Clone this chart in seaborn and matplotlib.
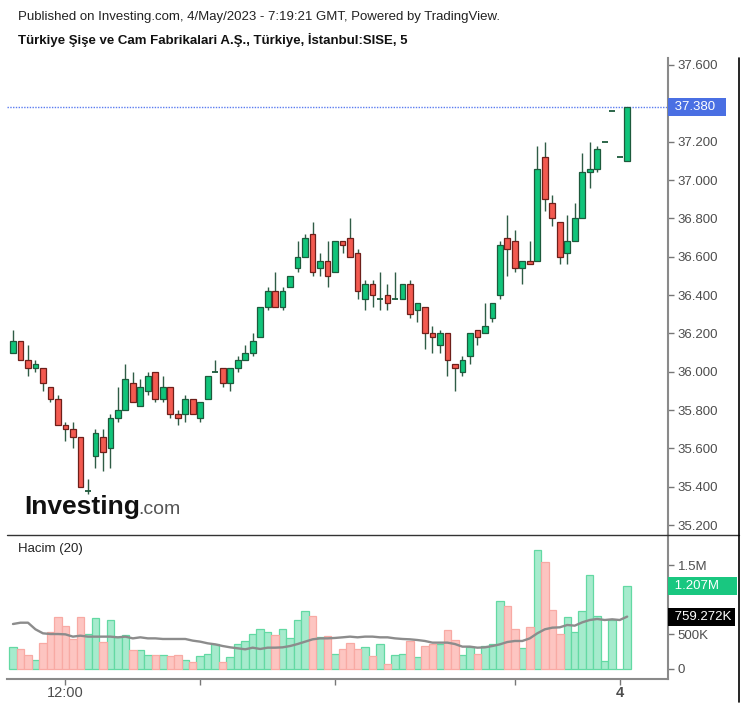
import numpy as np
import pandas as pd
import matplotlib
matplotlib.use("Agg")
import matplotlib.pyplot as plt
import matplotlib.transforms as mtransforms
from matplotlib.lines import Line2D
import seaborn as sns

# ---------------- data ----------------
opens = [36.10, 36.16, 36.06, 36.02, 36.02, 35.92, 35.86, 35.72, 35.70, 35.66,
         35.38, 35.56, 35.66, 35.60, 35.76, 35.80, 35.94, 35.82, 35.90, 36.00,
         35.86, 35.92, 35.78, 35.78, 35.86, 35.76, 35.86, 36.00, 36.02, 35.94,
         36.02, 36.06, 36.10, 36.18, 36.34, 36.42, 36.34, 36.44, 36.54, 36.60,
         36.72, 36.54, 36.58, 36.52, 36.68, 36.70, 36.62, 36.38, 36.46, 36.38,
         36.40, 36.38, 36.38, 36.46, 36.32, 36.34, 36.20, 36.14, 36.20, 36.04,
         36.00, 36.08, 36.22, 36.20, 36.28, 36.40, 36.70, 36.68, 36.54, 36.58,
         36.58, 37.12, 36.88, 36.78, 36.62, 36.68, 36.80, 37.04, 37.06, 37.20,
         37.36, 37.12, 37.10]
highs = [36.22, 36.16, 36.14, 36.06, 36.02, 35.92, 35.88, 35.74, 35.74, 35.66,
         35.44, 35.70, 35.70, 35.78, 35.92, 36.04, 36.00, 35.96, 36.00, 36.00,
         35.98, 35.92, 35.80, 35.88, 35.86, 35.84, 35.98, 36.06, 36.02, 36.02,
         36.08, 36.14, 36.20, 36.34, 36.44, 36.52, 36.44, 36.50, 36.68, 36.72,
         36.78, 36.62, 36.68, 36.68, 36.68, 36.80, 36.64, 36.48, 36.48, 36.52,
         36.46, 36.52, 36.46, 36.48, 36.36, 36.34, 36.24, 36.22, 36.20, 36.04,
         36.08, 36.20, 36.22, 36.36, 36.36, 36.68, 36.82, 36.74, 36.58, 36.68,
         37.18, 37.20, 36.92, 36.78, 36.82, 36.88, 37.14, 37.20, 37.18, 37.20,
         37.36, 37.12, 37.38]
lows = [36.10, 36.06, 35.98, 36.00, 35.90, 35.84, 35.72, 35.64, 35.60, 35.40,
        35.36, 35.50, 35.48, 35.50, 35.74, 35.80, 35.84, 35.82, 35.88, 35.84,
        35.84, 35.76, 35.72, 35.74, 35.78, 35.74, 35.86, 36.00, 35.92, 35.90,
        36.00, 36.06, 36.08, 36.18, 36.32, 36.34, 36.32, 36.44, 36.52, 36.60,
        36.50, 36.50, 36.44, 36.52, 36.62, 36.60, 36.38, 36.32, 36.34, 36.32,
        36.32, 36.38, 36.38, 36.28, 36.26, 36.12, 36.10, 36.10, 35.98, 35.90,
        35.98, 36.04, 36.14, 36.20, 36.26, 36.38, 36.50, 36.52, 36.46, 36.56,
        36.58, 36.84, 36.76, 36.56, 36.56, 36.68, 36.80, 36.96, 37.04, 37.20,
        37.36, 37.12, 37.10]
closes = [36.16, 36.06, 36.02, 36.04, 35.94, 35.86, 35.72, 35.70, 35.66, 35.40,
          35.38, 35.68, 35.58, 35.76, 35.80, 35.96, 35.84, 35.92, 35.98, 35.86,
          35.92, 35.78, 35.76, 35.86, 35.78, 35.84, 35.98, 36.00, 35.94, 36.02,
          36.06, 36.10, 36.16, 36.34, 36.42, 36.34, 36.42, 36.50, 36.60, 36.70,
          36.52, 36.58, 36.50, 36.68, 36.66, 36.60, 36.42, 36.46, 36.40, 36.38,
          36.36, 36.38, 36.46, 36.30, 36.36, 36.20, 36.18, 36.20, 36.06, 36.02,
          36.06, 36.20, 36.18, 36.24, 36.36, 36.66, 36.64, 36.54, 36.58, 36.56,
          37.06, 36.90, 36.80, 36.60, 36.68, 36.80, 37.04, 37.06, 37.16, 37.20,
          37.36, 37.12, 37.38]
# volume in millions
volume = [0.314, 0.295, 0.203, 0.130, 0.381, 0.532, 0.749, 0.623, 0.439, 0.749,
          0.507, 0.744, 0.387, 0.710, 0.469, 0.493, 0.275, 0.275, 0.203, 0.203,
          0.203, 0.188, 0.203, 0.130, 0.097, 0.188, 0.217, 0.362, 0.097, 0.169,
          0.362, 0.406, 0.507, 0.580, 0.532, 0.493, 0.580, 0.454, 0.710, 0.841,
          0.768, 0.459, 0.473, 0.217, 0.295, 0.382, 0.295, 0.314, 0.188, 0.362,
          0.072, 0.203, 0.217, 0.406, 0.169, 0.333, 0.362, 0.362, 0.565, 0.420,
          0.203, 0.314, 0.217, 0.333, 0.362, 0.981, 0.908, 0.580, 0.309, 0.604,
          1.725, 1.546, 0.855, 0.507, 0.749, 0.532, 0.841, 1.362, 0.768, 0.111,
          0.710, 0.004, 1.207]
# volume moving average (20), in millions
volume_ma = [0.652, 0.671, 0.671, 0.575, 0.517, 0.507, 0.507, 0.502, 0.469, 0.483,
             0.469, 0.469, 0.469, 0.469, 0.459, 0.469, 0.444, 0.459, 0.444, 0.444,
             0.435, 0.435, 0.435, 0.435, 0.411, 0.396, 0.372, 0.357, 0.333, 0.314,
             0.300, 0.285, 0.309, 0.290, 0.309, 0.309, 0.314, 0.333, 0.362, 0.396,
             0.430, 0.444, 0.444, 0.450, 0.459, 0.469, 0.459, 0.469, 0.469, 0.459,
             0.459, 0.444, 0.435, 0.430, 0.420, 0.406, 0.382, 0.382, 0.382, 0.362,
             0.324, 0.324, 0.309, 0.314, 0.333, 0.357, 0.391, 0.406, 0.406, 0.444,
             0.517, 0.575, 0.599, 0.604, 0.638, 0.628, 0.676, 0.710, 0.725, 0.710,
             0.720, 0.710, 0.759]
price_ticks = [35.2, 35.4, 35.6, 35.8, 36.0, 36.2, 36.4, 36.6, 36.8, 37.0, 37.2, 37.6]
volume_ticks = [0.0, 0.5, 1.5]
volume_tick_labels = ["0", "500K", "1.5M"]
time_tick_pos = [7, 25, 43, 67, 81]
time_tick_labels = ["12:00", "", "", "", "4"]
last_price = 37.38
last_volume = 1.207
last_volume_ma = 0.759272

# ---------------- styling ----------------
sns.set_theme(style="white")
plt.rcParams["font.family"] = ["Liberation Sans", "DejaVu Sans"]

W, H = 747, 707
fig = plt.figure(figsize=(W / 100, H / 100), dpi=100)
fig.patch.set_facecolor("white")

def fx(px):
    return px / W

def fy(py):
    return 1 - py / H

axp = fig.add_axes([fx(7), fy(535), (668 - 7) / W, (535 - 58) / H])
axv = fig.add_axes([fx(7), fy(679), (668 - 7) / W, (679 - 535) / H])

n = len(opens)
idx = np.arange(n)
df = pd.DataFrame({"i": idx, "open": opens, "high": highs, "low": lows,
                   "close": closes, "vol": volume, "ma": volume_ma})
df["dir"] = np.where(df["close"] >= df["open"], "up", "down")

UP_FILL, UP_EDGE = "#10c47a", "#1d5a3c"
DN_FILL, DN_EDGE = "#f35a50", "#6e1f1a"
WICK = "#2f5c46"

# ---------------- candles ----------------
axp.vlines(df["i"], df["low"], df["high"], color=WICK, lw=1.0, zorder=2)
body_w = 0.76
for _, r in df.iterrows():
    lo, hi = min(r["open"], r["close"]), max(r["open"], r["close"])
    up = r["dir"] == "up"
    if hi - lo < 1e-9:
        axp.hlines(lo, r["i"] - body_w / 2, r["i"] + body_w / 2,
                   color=UP_EDGE if up else DN_EDGE, lw=1.3, zorder=3)
    else:
        axp.bar(r["i"], hi - lo, bottom=lo, width=body_w,
                color=UP_FILL if up else DN_FILL,
                edgecolor=UP_EDGE if up else DN_EDGE, linewidth=0.9, zorder=3)

axp.axhline(last_price, color="#5b7cf0", lw=1.0, ls=(0, (1, 1)), zorder=1)

axp.set_xlim(-0.8, 87.45)
axp.set_ylim(35.148, 37.6365)
axp.set_xticks([])
axp.yaxis.tick_right()
axp.set_yticks(price_ticks)
axp.set_yticklabels([f"{t:.3f}" for t in price_ticks])
axp.tick_params(axis="y", right=True, left=False, length=4, width=1,
                color="#777777", labelcolor="#4d4d4d", labelsize=9.5, pad=3)
for s in ["top", "left", "bottom"]:
    axp.spines[s].set_visible(False)
axp.spines["right"].set_color("#8a8a8a")
axp.spines["right"].set_linewidth(1.5)
axp.set_xlabel("")
axp.set_ylabel("")

trp = mtransforms.blended_transform_factory(axp.transAxes, axp.transData)
axp.text(1.005, last_price, " 37.380  ", transform=trp, ha="left", va="center",
         color="white", fontsize=9.5, zorder=10, clip_on=False,
         bbox=dict(boxstyle="square,pad=0.22", fc="#4a6fe3", ec="none"))

# ---------------- volume ----------------
sns.barplot(data=df, x="i", y="vol", hue="dir",
            palette={"up": "#a6ebcd", "down": "#fdc5c1"},
            dodge=False, width=1.0, native_scale=True, saturation=1,
            errorbar=None, legend=False, ax=axv, zorder=2)
for p in axv.patches:
    fc = matplotlib.colors.to_hex(p.get_facecolor())
    p.set_edgecolor("#63d9a3" if fc == "#a6ebcd" else "#f8aaa4")
    p.set_linewidth(0.9)

sns.lineplot(data=df, x="i", y="ma", color="#8c8c8c", lw=1.7, ax=axv, zorder=3)

axv.set_xlim(-0.8, 87.45)
axv.set_ylim(-0.145, 1.942)
axv.yaxis.tick_right()
axv.set_yticks(volume_ticks)
axv.set_yticklabels(volume_tick_labels)
axv.tick_params(axis="y", right=True, left=False, length=4, width=1,
                color="#777777", labelcolor="#4d4d4d", labelsize=9.5, pad=3)
axv.set_xticks(time_tick_pos)
axv.set_xticklabels(time_tick_labels)
axv.tick_params(axis="x", bottom=True, length=4, width=1, color="#777777",
                labelcolor="#4d4d4d", labelsize=10.5, pad=1)
for lab in axv.get_xticklabels():
    if lab.get_text() == "4":
        lab.set_fontweight("bold")
for s in ["top", "left"]:
    axv.spines[s].set_visible(False)
for s in ["right", "bottom"]:
    axv.spines[s].set_color("#8a8a8a")
    axv.spines[s].set_linewidth(1.5)
axv.set_xlabel("")
axv.set_ylabel("")

trv = mtransforms.blended_transform_factory(axv.transAxes, axv.transData)
axv.text(1.005, last_volume, " 1.207M    ", transform=trv, ha="left", va="center",
         color="white", fontsize=9.5, zorder=10, clip_on=False,
         bbox=dict(boxstyle="square,pad=0.22", fc="#19c780", ec="none"))
axv.text(1.005, last_volume_ma, " 759.272K", transform=trv, ha="left", va="center",
         color="white", fontsize=9.5, zorder=10, clip_on=False,
         bbox=dict(boxstyle="square,pad=0.22", fc="#000000", ec="none"))
axv.text(0.017, 0.9, "Hacim (20)", transform=axv.transAxes, ha="left", va="center",
         fontsize=9.5, color="#222222")

# ---------------- frame lines ----------------
fig.add_artist(Line2D([fx(7), fx(739)], [fy(535), fy(535)], color="#333333", lw=1.0))
fig.add_artist(Line2D([fx(739), fx(739)], [fy(58), fy(702)], color="#000000", lw=1.2))

# ---------------- header and logo ----------------
fig.text(fx(18), fy(17), "Published on Investing.com, 4/May/2023 - 7:19:21 GMT, Powered by TradingView.",
         ha="left", va="center", fontsize=9.5, color="#222222")
fig.text(fx(18), fy(40), "Türkiye Şişe ve Cam Fabrikalari A.Ş., Türkiye, İstanbul:SISE, 5",
         ha="left", va="center", fontsize=9.5, color="#111111", fontweight="bold")
fig.text(fx(24), fy(514), "Investing", ha="left", va="baseline",
         fontsize=19, fontweight="bold", color="#111111")
fig.text(fx(138), fy(514), ".com", ha="left", va="baseline",
         fontsize=14, color="#555555")

fig.savefig("out.png", dpi=100)
